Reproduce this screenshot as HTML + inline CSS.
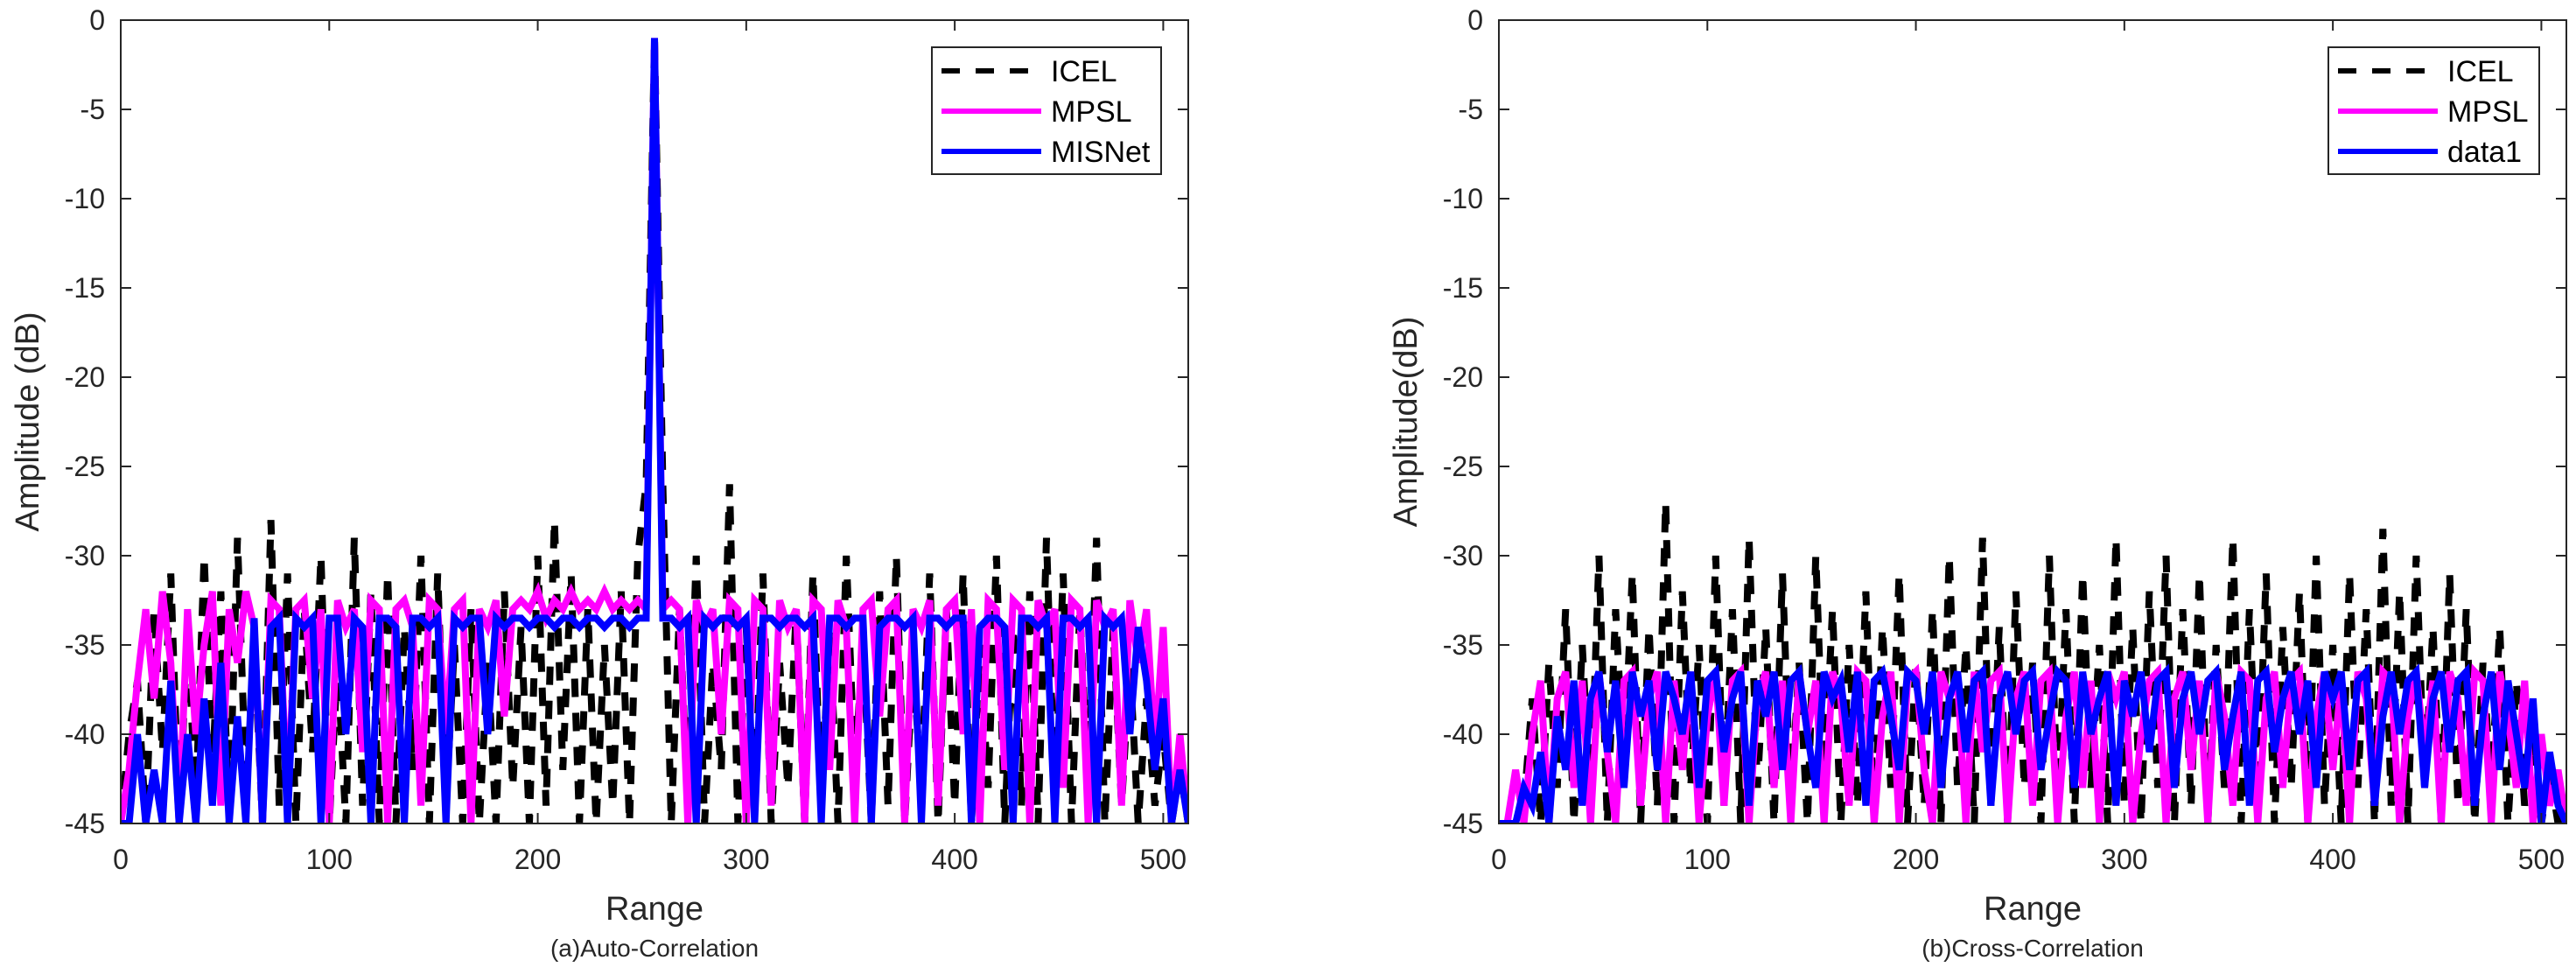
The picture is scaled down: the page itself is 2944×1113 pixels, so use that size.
<!DOCTYPE html>
<html><head><meta charset="utf-8">
<style>
html,body{margin:0;padding:0;background:#fff;}
svg{display:block;font-family:"Liberation Sans",Arial,sans-serif;}
</style></head>
<body>
<svg id="fig" width="2944" height="1113" viewBox="0 0 2944 1113" xmlns="http://www.w3.org/2000/svg">
<rect width="2944" height="1113" fill="#fff"/>
</svg>
<script>
const xTicks=[0,100,200,300,400,500];
const yTicks=[0,-5,-10,-15,-20,-25,-30,-35,-40,-45];
const step=4;
const icelAuto=[-45,-40,-37,-45,-33,-41,-31,-45,-34,-44,-30,-42,-32,-45,-29,-43,
-35,-45,-28,-44,-31,-45,-33,-41,-30,-45,-36,-45,-29,-44,-32,-45,
-31,-45,-34,-42,-30,-45,-31,-44,-35,-45,-33,-45,-36,-45,-32,-43,
-34,-45,-30,-44,-28,-42,-31,-45,-33,-45,-35,-44,-32,-45,-30,
-26,-1,-26,
-45,-33,-44,-30,-45,-36,-42,-26,-45,-34,-44,-31,-45,-36,-43,-33,
-45,-31,-44,-34,-45,-30,-42,-35,-45,-32,-44,-30,-45,-36,-43,-31,
-45,-33,-44,-31,-45,-35,-43,-30,-45,-34,-44,-32,-45,-29,-44,-31,
-45,-33,-43,-29,-45,-34,-44,-36,-45,-38,-44,-40,-45,-42,-45];
const mpslAuto=[-45,-42,-37,-33,-38,-32,-36,-45,-33,-40,-35,-32,-44,-33,-36,-32,
-34,-45,-32.5,-33,-44,-33,-32.5,-38,-33,-45,-32.5,-34,-33,-41,-32.5,-33,
-45,-33,-32.5,-34,-44,-32.5,-33,-40,-33,-32.5,-45,-33,-34,-32.5,-39,-33,
-32.5,-33,-32,-33.5,-32.5,-33,-32,-33,-32.5,-33,-32,-33,-32.5,-33,-32.5,
-33,-1,-33,
-32.5,-33,-45,-32.5,-34,-33,-40,-32.5,-33,-45,-32.5,-33,-44,-32.5,-34,-33,
-45,-32.5,-33,-42,-32.5,-34,-45,-33,-32.5,-39,-33,-32.5,-45,-33,-34,-32.5,
-44,-33,-32.5,-40,-33,-45,-32.5,-33,-42,-32.5,-33,-45,-32.5,-34,-33,-43,
-32.5,-33,-45,-32.5,-34,-33,-44,-32.5,-36,-33,-41,-34,-45,-40,-45];
const misnetAuto=[-45,-45,-40,-45,-42,-45,-37,-45,-40,-45,-38,-44,-36,-45,-39,-45,
-33.5,-45,-34,-33.5,-45,-33.5,-34,-33.5,-45,-33.5,-33.5,-40,-33.5,-34,-45,-33.5,
-33.5,-34,-45,-33.5,-33.5,-34,-33.5,-45,-33.5,-34,-33.5,-33.5,-40,-33.5,-34,-33.5,
-33.5,-34,-33.5,-33.5,-34,-33.5,-33.5,-34,-33.5,-33.5,-34,-33.5,-33.5,-34,-33.5,
-33.5,-1,-33.5,
-33.5,-34,-33.5,-45,-33.5,-34,-33.5,-33.5,-34,-33.5,-45,-33.5,-33.5,-34,-33.5,-33.5,
-34,-33.5,-45,-33.5,-33.5,-34,-33.5,-33.5,-45,-34,-33.5,-33.5,-34,-33.5,-45,-33.5,
-33.5,-34,-33.5,-33.5,-45,-34,-33.5,-33.5,-34,-45,-33.5,-33.5,-34,-33.5,-45,-33.5,
-33.5,-34,-33.5,-45,-33.5,-34,-33.5,-40,-34,-37,-42,-38,-45,-42,-45];
const icelCross=[-45,-45,-45,-44,-38,-45,-36,-43,-33,-45,-35,-44,-30,-45,-33,-42,
-31,-45,-34,-44,-27,-45,-32,-43,-35,-45,-30,-44,-33,-45,-29,-43,
-34,-45,-31,-44,-36,-45,-30,-43,-33,-45,-35,-44,-32,-45,-34,-43,
-31,-45,-36,-44,-33,-45,-30,-43,-35,-45,-29,-44,-34,-45,-32,-43,
-36,-45,-30,-44,-33,-45,-31,-43,-35,-45,-29,-44,-34,-45,-32,-43,
-30,-45,-33,-44,-31,-45,-35,-43,-29,-45,-33,-44,-31,-45,-34,-43,
-32,-45,-30,-44,-35,-45,-31,-43,-33,-45,-28.5,-44,-32,-45,-30,-43,
-34,-45,-31,-44,-33,-45,-36,-43,-34,-45,-37,-44,-40,-45,-42,-45,-45];
const mpslCross=[-45,-45,-42,-45,-40,-37,-45,-38,-36.5,-43,-37,-45,-36.5,-41,-45,-37,
-36.5,-44,-38,-36.5,-45,-37,-42,-36.5,-45,-39,-36.5,-44,-37,-36.5,-45,-38,
-36.5,-43,-37,-45,-36.5,-40,-37,-45,-36.5,-38,-44,-36.5,-37,-45,-39,-36.5,
-45,-37,-36.5,-42,-45,-36.5,-38,-37,-45,-36.5,-41,-37,-36.5,-45,-38,-36.5,
-44,-37,-36.5,-45,-39,-36.5,-43,-37,-45,-36.5,-38,-36.5,-45,-40,-37,-36.5,
-45,-38,-36.5,-42,-37,-45,-36.5,-39,-44,-36.5,-37,-45,-38,-36.5,-43,-37,
-36.5,-45,-39,-36.5,-42,-37,-45,-36.5,-38,-44,-36.5,-37,-45,-39,-36.5,-41,
-37,-45,-36.5,-38,-44,-36.5,-37,-45,-36.5,-39,-43,-37,-45,-40,-44,-42,-45];
const data1Cross=[-45,-45,-45,-43,-44,-41,-45,-39,-42,-37,-44,-38,-36.5,-41,-37,-43,
-36.5,-39,-37,-42,-36.5,-38,-40,-36.5,-43,-37,-36.5,-41,-38,-36.5,-44,-37,
-39,-36.5,-42,-37,-36.5,-40,-43,-36.5,-38,-37,-41,-36.5,-44,-37,-36.5,-39,
-42,-36.5,-37,-40,-36.5,-43,-38,-36.5,-41,-37,-36.5,-44,-38,-36.5,-40,-37,
-36.5,-42,-39,-36.5,-37,-43,-36.5,-40,-38,-36.5,-44,-37,-39,-36.5,-41,-37,
-36.5,-43,-38,-36.5,-40,-37,-36.5,-42,-39,-36.5,-44,-37,-36.5,-41,-38,-36.5,
-40,-37,-43,-36.5,-38,-36.5,-42,-37,-36.5,-44,-39,-36.5,-40,-37,-36.5,-43,
-38,-36.5,-41,-37,-36.5,-44,-39,-36.5,-42,-37,-40,-43,-38,-45,-41,-44,-45];

const NS='http://www.w3.org/2000/svg';
const svg=document.getElementById('fig');
function mk(tag,attrs,parent){const e=document.createElementNS(NS,tag);for(const k in attrs)e.setAttribute(k,attrs[k]);(parent||svg).appendChild(e);return e;}

function panel(id,left,right,series,names,ylabel,caption){
  const top=23,bottom=941;
  const sx=v=>left+(v/512)*(right-left);
  const sy=v=>top+(v/-45)*(bottom-top);
  const g=mk('g',{});
  
  
  const cp=mk('clipPath',{id:id+'-clip'},g);
  mk('rect',{x:left,y:top,width:right-left,height:bottom-top},cp);
  const styles=[{stroke:'#000','stroke-dasharray':'21 18'},{stroke:'#ff00ff'},{stroke:'#0000ff'}];
  series.forEach((arr,si)=>{
    let d='';
    arr.forEach((v,i)=>{d+=(i?'L':'M')+sx(i*step).toFixed(1)+' '+sy(v).toFixed(1);});
    const p=mk('path',Object.assign({d:d,fill:'none','stroke-width':8,'stroke-linejoin':'miter','clip-path':'url(#'+id+'-clip)'},styles[si]),g);
    
    
  });
  const ax=mk('rect',{x:left,y:top,width:right-left,height:bottom-top,fill:'none',stroke:'#262626','stroke-width':2},g);
  
  
  xTicks.forEach(t=>{
    const x=sx(t);
    mk('line',{x1:x,y1:bottom,x2:x,y2:bottom-12,stroke:'#262626','stroke-width':2},g);
    mk('line',{x1:x,y1:top,x2:x,y2:top+12,stroke:'#262626','stroke-width':2},g);
    const tx=mk('text',{x:x,y:993,'font-size':32,'text-anchor':'middle',fill:'#262626'},g);
    tx.textContent=t;
    
    
  });
  yTicks.forEach(t=>{
    const y=sy(t);
    mk('line',{x1:left,y1:y,x2:left+12,y2:y,stroke:'#262626','stroke-width':2},g);
    mk('line',{x1:right,y1:y,x2:right-12,y2:y,stroke:'#262626','stroke-width':2},g);
    const ty=mk('text',{x:left-18,y:y+11,'font-size':32,'text-anchor':'end',fill:'#262626'},g);
    ty.textContent=t;
    
    
  });
  const xl=mk('text',{x:(left+right)/2,y:1051,'font-size':38,'text-anchor':'middle',fill:'#262626'},g);
  xl.textContent='Range';
  
  
  const cap=mk('text',{x:(left+right)/2,y:1093,'font-size':28,'text-anchor':'middle',fill:'#262626'},g);
  cap.textContent=caption;
  
  
  const yl=mk('text',{x:0,y:0,'font-size':38,'text-anchor':'middle',fill:'#262626',transform:'translate('+(left-94)+','+((top+bottom)/2)+') rotate(-90)'},g);
  yl.textContent=ylabel;
  
  
  const lw=names[2]==='MISNet'?262:241;
  const lx=right-31-lw, ly=54;
  const lg=mk('g',{},g);
  
  
  mk('rect',{x:lx,y:ly,width:lw,height:145,fill:'#fff',stroke:'#262626','stroke-width':2},lg);
  names.forEach((n,i)=>{
    const yy=ly+27+i*46;
    mk('line',Object.assign({x1:lx+11,y1:yy,x2:lx+125,y2:yy,'stroke-width':6},styles[i]),lg);
    const t=mk('text',{x:lx+136,y:yy+12,'font-size':34,fill:'#000'},lg);
    t.textContent=n;
    
    
  });
}
panel('auto',138,1358,[icelAuto,mpslAuto,misnetAuto],['ICEL','MPSL','MISNet'],'Amplitude (dB)','(a)Auto-Correlation');
panel('cross',1713,2933,[icelCross,mpslCross,data1Cross],['ICEL','MPSL','data1'],'Amplitude(dB)','(b)Cross-Correlation');
</script>
</body></html>
